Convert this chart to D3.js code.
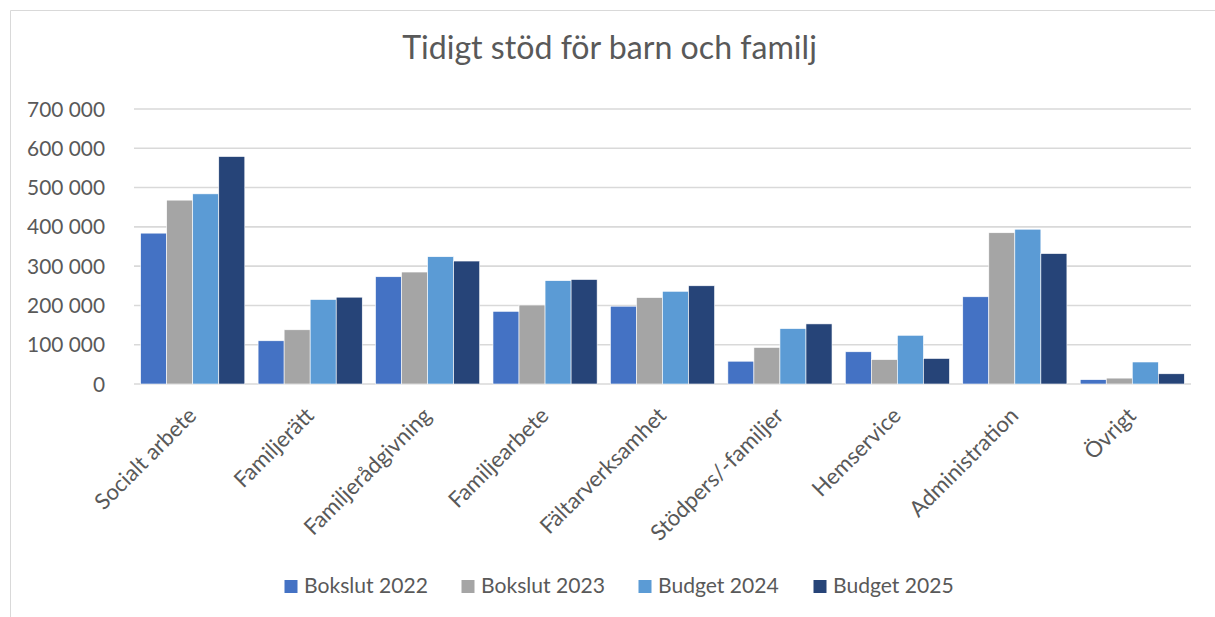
<!DOCTYPE html>
<html><head><meta charset="utf-8">
<script src="https://cdn.jsdelivr.net/npm/d3@7"></script>
<style>
html,body{margin:0;padding:0;background:#fff;}
svg text{font-family:Lato, "Open Sans", sans-serif;fill:#595959;}
</style></head>
<body><svg id="chart" width="1215" height="617"></svg>
<script>
const categories = ["Socialt arbete","Familjerätt","Familjerådgivning","Familjearbete","Fältarverksamhet","Stödpers/-familjer","Hemservice","Administration","Övrigt"];
const seriesNames = ["Bokslut 2022","Bokslut 2023","Budget 2024","Budget 2025"];
const bokslut2022 = [384000,110000,273000,185000,198000,58000,82000,222000,11000];
const bokslut2023 = [468000,138000,285000,201000,220000,93000,62000,385000,15000];
const budget2024  = [484000,215000,324000,263000,236000,141000,124000,394000,56000];
const budget2025  = [579000,221000,313000,266000,250000,153000,65000,332000,26000];
const yTicks = [0,100000,200000,300000,400000,500000,600000,700000];
const colors = ["#4472C4","#A5A5A5","#5B9BD5","#264478"];

(function(){
const series = [bokslut2022,bokslut2023,budget2024,budget2025];
const svg = d3.select("#chart");

// font size fitting helper: size so that sample string has target width
function fit(sample, targetW){
  const t = svg.append("text").attr("font-size",100).text(sample);
  const w = t.node().getComputedTextLength();
  t.remove();
  return 100*targetW/w;
}
const fsTitle = fit("Tidigt stöd för barn och familj", 415);
const fsY = fit("700 000", 78);
const fsLeg = fit("Bokslut 2022", 124);
const fsX = fsLeg*1.05;

// outer border
svg.append("path").attr("d","M10.5,617 L10.5,10.5 L1215,10.5").attr("fill","none").attr("stroke","#d9d9d9").attr("stroke-width",1);

const pL=134, pR=1191, pT=109, pB=384;
const x0 = d3.scaleBand().domain(categories).range([pL,pR]).paddingInner(0.1132).paddingOuter(0.0566);
const x1 = d3.scaleBand().domain(seriesNames).range([0,x0.bandwidth()]);
const y = d3.scaleLinear().domain([0,700000]).range([pB,pT]);

const fmt = v => d3.format(",")(v).replace(/,/g," ");

// gridlines
svg.append("g").selectAll("line").data(yTicks).join("line")
  .attr("x1",pL).attr("x2",pR).attr("y1",d=>y(d)).attr("y2",d=>y(d))
  .attr("stroke","#d9d9d9").attr("stroke-width",1.6);

// y labels
svg.append("g").selectAll("text").data(yTicks).join("text")
  .attr("x",105).attr("y",d=>y(d)).attr("dy","0.36em").attr("text-anchor","end")
  .attr("font-size",fsY).text(fmt);

// bars
const g = svg.append("g");
categories.forEach((c,i)=>{
  series.forEach((s,j)=>{
    g.append("rect")
      .attr("x",x0(c)+x1(seriesNames[j]))
      .attr("y",y(s[i]))
      .attr("width",x1.bandwidth())
      .attr("height",y(0)-y(s[i]))
      .attr("fill",colors[j])
      .attr("stroke","#ffffff").attr("stroke-width",0.6);
  });
});

// x labels
svg.append("g").selectAll("text").data(categories).join("text")
  .attr("transform",d=>`translate(${x0(d)+x0.bandwidth()/2+5},${pB+33}) rotate(-45)`)
  .attr("text-anchor","end").attr("font-size",fsX).text(d=>d);

// title
svg.append("text").attr("x",609.5).attr("y",59).attr("text-anchor","middle")
  .attr("font-size",fsTitle).text("Tidigt stöd för barn och familj");

// legend
const legX = [284.5,461.5,638.5,813.5];
const leg = svg.append("g").selectAll("g").data(seriesNames).join("g")
  .attr("transform",(d,i)=>`translate(${legX[i]},0)`);
leg.append("rect").attr("x",0).attr("y",580).attr("width",13).attr("height",13).attr("fill",(d,i)=>colors[i]);
leg.append("text").attr("x",19.5).attr("y",593).attr("font-size",fsLeg).text(d=>d);
})();
</script>
</body></html>
